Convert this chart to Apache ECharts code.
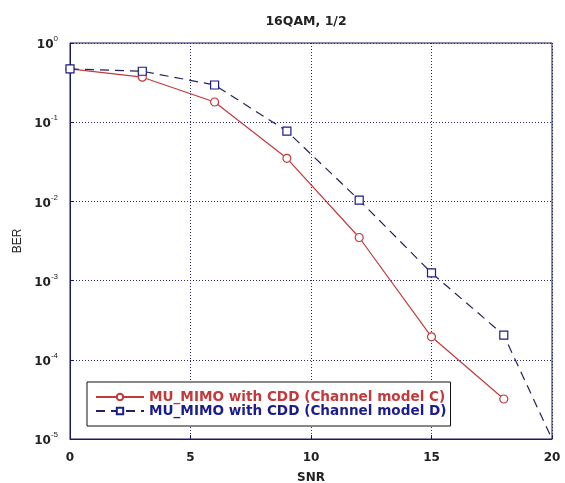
<!DOCTYPE html>
<html>
<head>
<meta charset="utf-8">
<script src="https://cdn.jsdelivr.net/npm/echarts@6/dist/echarts.min.js"></script>
<style>
  html, body { margin: 0; padding: 0; background: #fff; }
  #chart { width: 565px; height: 483px; }
</style>
</head>
<body>
<div id="chart"></div>
<script>
// SNR points and BER values
const snr = [0, 3, 6, 9, 12, 15, 18];
const berC = [0.47, 0.37, 0.18, 0.035, 0.0035, 0.000195, 0.000032];
const snrD = [0, 3, 6, 9, 12, 15, 18, 20];
const berD = [0.47, 0.44, 0.295, 0.077, 0.0104, 0.00125, 0.000205, 0.00001];
const xTicks = [0, 5, 10, 15, 20];

const nameC = 'MU_MIMO with CDD (Channel model C)';
const nameD = 'MU_MIMO with CDD (Channel model D)';
const redColor = '#c23a3c';
const blueColor = '#1c1c8a';
const axisColor = '#1a1a5e';
const boldFont = 'DejaVu Sans';

const chart = echarts.init(document.getElementById('chart'));
chart.setOption({
  backgroundColor: '#fff',
  animation: false,
  title: {
    text: '16QAM, 1/2',
    left: 301,
    top: 10,
    textAlign: 'center',
    textStyle: { fontFamily: boldFont, fontWeight: 'bold', fontSize: 12.5, color: '#222' },
  },
  grid: {
    left: 70, right: 13, top: 43, bottom: 44,
    outerBoundsMode: 'none',
    show: true, borderColor: axisColor, borderWidth: 1, backgroundColor: 'transparent',
  },
  legend: {
    orient: 'vertical',
    left: 87,
    top: 382,
    itemGap: 0,
    itemWidth: 48,
    itemHeight: 8,
    padding: [8, 4, 8, 8],
    borderColor: '#111',
    borderWidth: 1,
    backgroundColor: '#fff',
    textStyle: { fontFamily: boldFont, fontWeight: 'bold', fontSize: 13.6, lineHeight: 13 },
    data: [
      { name: nameC, textStyle: { color: redColor } },
      { name: nameD, textStyle: { color: blueColor } },
    ],
  },
  xAxis: {
    type: 'value',
    min: 0,
    max: 20,
    interval: 5,
    name: 'SNR',
    nameLocation: 'middle',
    nameGap: 33,
    nameTextStyle: { fontFamily: boldFont, fontWeight: 'bold', fontSize: 12, color: '#222' },
    axisLine: { lineStyle: { color: axisColor } },
    axisTick: { inside: true, length: 4, lineStyle: { color: axisColor } },
    axisLabel: {
      margin: 13, color: '#222', fontFamily: boldFont, fontWeight: 'bold', fontSize: 12,
      customValues: xTicks,
    },
    splitLine: { lineStyle: { color: '#2a2a6a', type: [1, 2], width: 1 } },
  },
  yAxis: {
    type: 'log',
    logBase: 10,
    min: 1e-5,
    max: 1,
    name: 'BER',
    nameLocation: 'middle',
    nameGap: 40,
    nameRotate: 90,
    nameTextStyle: { fontFamily: 'Liberation Sans', fontSize: 12, color: '#222' },
    axisLine: { lineStyle: { color: axisColor } },
    axisTick: { inside: true, length: 4, lineStyle: { color: axisColor } },
    axisLabel: {
      margin: 12,
      formatter: function (v) {
        return '{b|10}{s|' + Math.round(Math.log10(v)) + '}';
      },
      rich: {
        b: { fontFamily: boldFont, fontWeight: 'bold', fontSize: 12, color: '#222', padding: [4, 0, 0, 0] },
        s: { fontFamily: 'Liberation Sans', fontSize: 8, color: '#222', verticalAlign: 'top', padding: [0, 0, 6, 0] },
      },
    },
    splitLine: { lineStyle: { color: '#2a2a6a', type: [1, 2], width: 1 } },
  },
  series: [
    {
      name: nameC,
      type: 'line',
      data: snr.map((x, i) => [x, berC[i]]),
      symbol: 'circle',
      symbolSize: 8,
      itemStyle: { color: '#fff', borderColor: redColor, borderWidth: 1.2 },
      lineStyle: { color: redColor, width: 1.2 },
      z: 3,
    },
    {
      name: nameD,
      type: 'line',
      data: snrD.map((x, i) => ({
        value: [x, berD[i]],
        symbol: i === snrD.length - 1 ? 'none' : 'rect',
      })),
      symbol: 'rect',
      symbolSize: 8,
      itemStyle: { color: '#fff', borderColor: blueColor, borderWidth: 1.2 },
      lineStyle: { color: '#23235e', width: 1.2, type: [9, 6] },
      z: 4,
    },
  ],
});
</script>
</body>
</html>
